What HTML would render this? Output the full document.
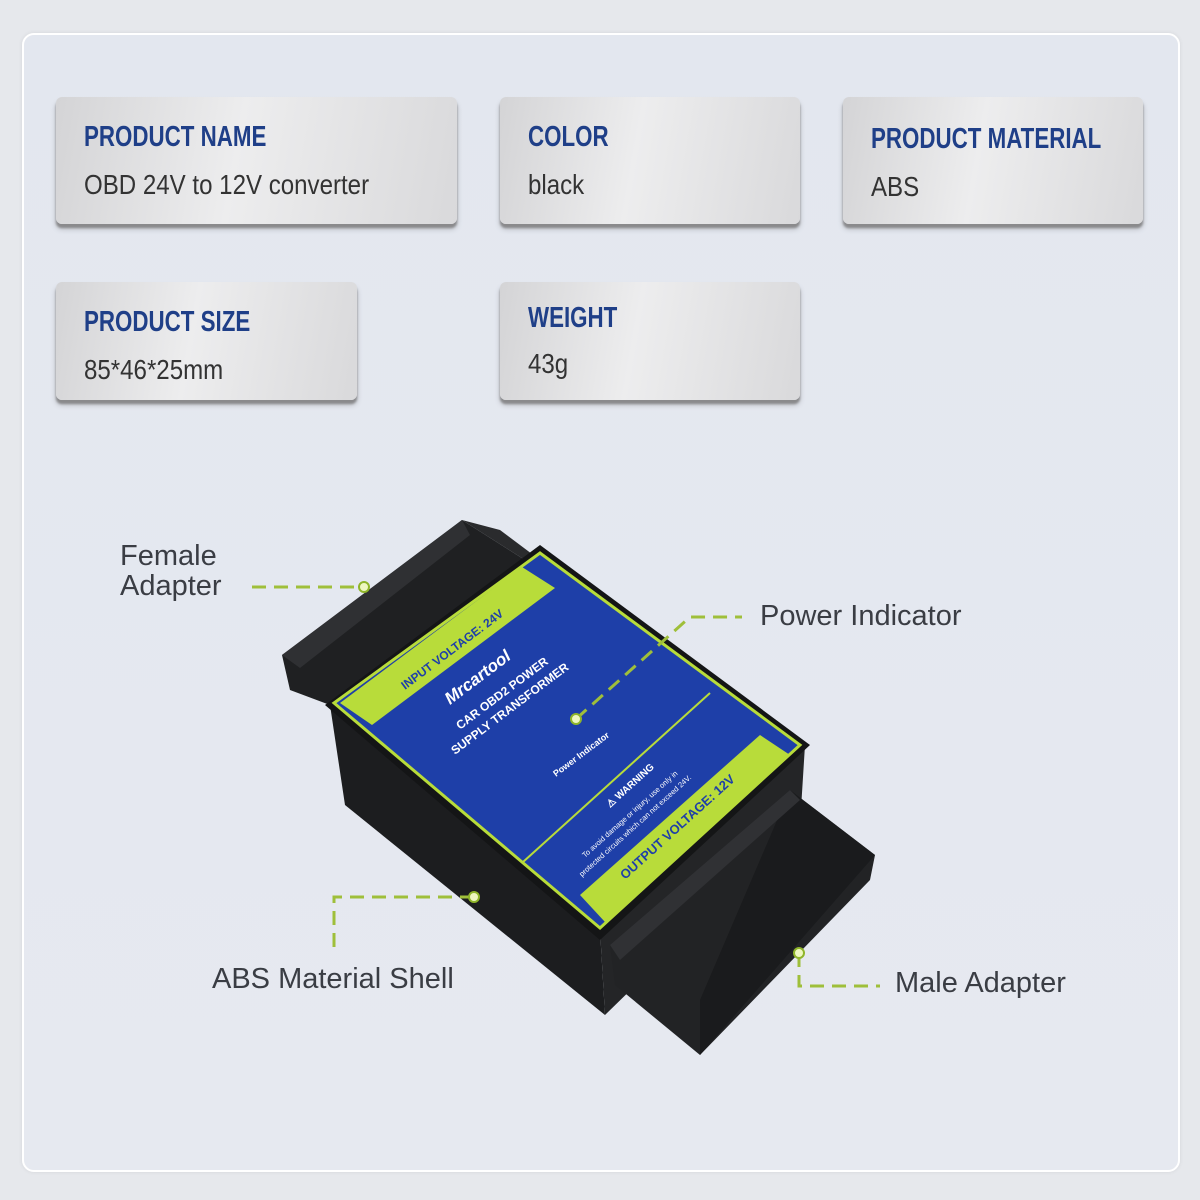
<!DOCTYPE html>
<html><head><meta charset="utf-8"><style>
body{margin:0;width:1200px;height:1200px;background:#e6e8ec;position:relative;overflow:hidden;font-family:"Liberation Sans",sans-serif}
.panel{position:absolute;left:22px;top:33px;width:1154px;height:1135px;border:2px solid #fff;border-radius:12px;background:linear-gradient(180deg,#e3e7ef,#e6e9f0);box-shadow:0 0 4px rgba(0,0,0,.08)}
.card{position:absolute;border-radius:6px;background:linear-gradient(100deg,#d4d4d6 0%,#ededee 45%,#d9d9db 100%);box-shadow:0 4px 2px #8a8a8c,0 5px 6px rgba(0,0,0,.2)}
.card .t,.card .v{position:absolute;left:28px;white-space:nowrap;transform-origin:0 0}
.card .t{top:24px;font-size:29px;font-weight:bold;color:#1f3f88;transform:scaleX(.77)}
.card .v{top:72px;font-size:28px;color:#333;transform:scaleX(.86)}
.lbl{position:absolute;font-size:29px;color:#3a3d44;line-height:30px;white-space:nowrap}
</style></head><body>
<div class="panel"></div>
<div class="card" style="left:56px;top:97px;width:401px;height:127px"><div class="t">PRODUCT NAME</div><div class="v">OBD 24V to 12V converter</div></div>
<div class="card" style="left:500px;top:97px;width:300px;height:127px"><div class="t">COLOR</div><div class="v">black</div></div>
<div class="card" style="left:843px;top:97px;width:300px;height:127px"><div class="t" style="top:26px">PRODUCT MATERIAL</div><div class="v" style="top:74px">ABS</div></div>
<div class="card" style="left:56px;top:282px;width:301px;height:118px"><div class="t">PRODUCT SIZE</div><div class="v">85*46*25mm</div></div>
<div class="card" style="left:500px;top:282px;width:300px;height:118px"><div class="t" style="top:20px">WEIGHT</div><div class="v" style="top:66px">43g</div></div>

<svg width="1200" height="1200" style="position:absolute;left:0;top:0">
<polygon points="282,655 462,520 525,560 345,700 330,705 290,690" fill="#1f2022"/>
<polygon points="462,520 500,530 560,575 525,560" fill="#2a2b2d"/>
<polygon points="282,655 462,520 470,535 300,668" fill="#2f3033"/>
<polygon points="330,705 600,930 605,1015 345,805" fill="#1c1d1f"/>
<polygon points="600,930 805,745 800,825 605,1015" fill="#242527"/>
<polygon points="610,945 790,790 875,855 870,880 700,1055 615,985" fill="#222325"/>
<polygon points="790,790 875,855 700,1055 700,1000" fill="#1a1b1d"/>
<polygon points="610,945 790,790 800,800 620,960" fill="#303134"/>
<polygon points="325,705 540,545 810,745 600,940" fill="#141516"/>
<polygon points="334,703 540,553 800,745 600,928" fill="#1e3fa8"/>
<polygon points="334,703 540,553 800,745 600,928" fill="none" stroke="#b8dc3a" stroke-width="3"/>
<polygon points="340,703 522,567 555,588 372,725" fill="#b8dc3a"/>
<polygon points="580,895 760,735 790,755 605,922" fill="#b8dc3a"/>
<line x1="523" y1="862" x2="710" y2="693" stroke="#b8dc3a" stroke-width="2"/>
<text transform="translate(405,690) rotate(-37)" font-size="12" font-weight="bold" fill="#1e3fa8">INPUT VOLTAGE: 24V</text>
<text transform="translate(625,880) rotate(-42)" font-size="13" font-weight="bold" fill="#1e3fa8">OUTPUT VOLTAGE: 12V</text>
<text transform="translate(450,705) rotate(-37)" font-size="17" font-weight="bold" font-style="italic" fill="#fff">Mrcartool</text>
<text transform="translate(460,730) rotate(-37)" font-size="12" font-weight="bold" fill="#fff">CAR OBD2 POWER</text>
<text transform="translate(455,755) rotate(-37)" font-size="12" font-weight="bold" fill="#fff">SUPPLY TRANSFORMER</text>
<text transform="translate(556,777) rotate(-37)" font-size="9" font-weight="bold" fill="#fff">Power Indicator</text>
<text transform="translate(610,808) rotate(-42)" font-size="10" font-weight="bold" fill="#fff">⚠ WARNING</text>
<text transform="translate(585,858) rotate(-42)" font-size="7.5" fill="#fff">To avoid damage or injury, use only in</text>
<text transform="translate(582,877) rotate(-42)" font-size="7.5" fill="#fff">protected circuits which can not exceed 24V.</text>
<g stroke="#9fbf3a" stroke-width="3" stroke-dasharray="14,8" fill="none">
<polyline points="252,587 362,587"/>
<polyline points="576,719 690,617 742,617"/>
<polyline points="474,897 334,897 334,950"/>
<polyline points="799,953 799,986 880,986"/>
</g>
<g fill="#eef7c0" stroke="#8fb52a" stroke-width="2">
<circle cx="364" cy="587" r="5"/><circle cx="576" cy="719" r="5"/><circle cx="474" cy="897" r="5"/><circle cx="799" cy="953" r="5"/>
</g>
</svg>
<div class="lbl" style="left:120px;top:541px">Female<br>Adapter</div>
<div class="lbl" style="left:760px;top:601px">Power Indicator</div>
<div class="lbl" style="left:212px;top:964px">ABS Material Shell</div>
<div class="lbl" style="left:895px;top:968px">Male Adapter</div>
</body></html>
